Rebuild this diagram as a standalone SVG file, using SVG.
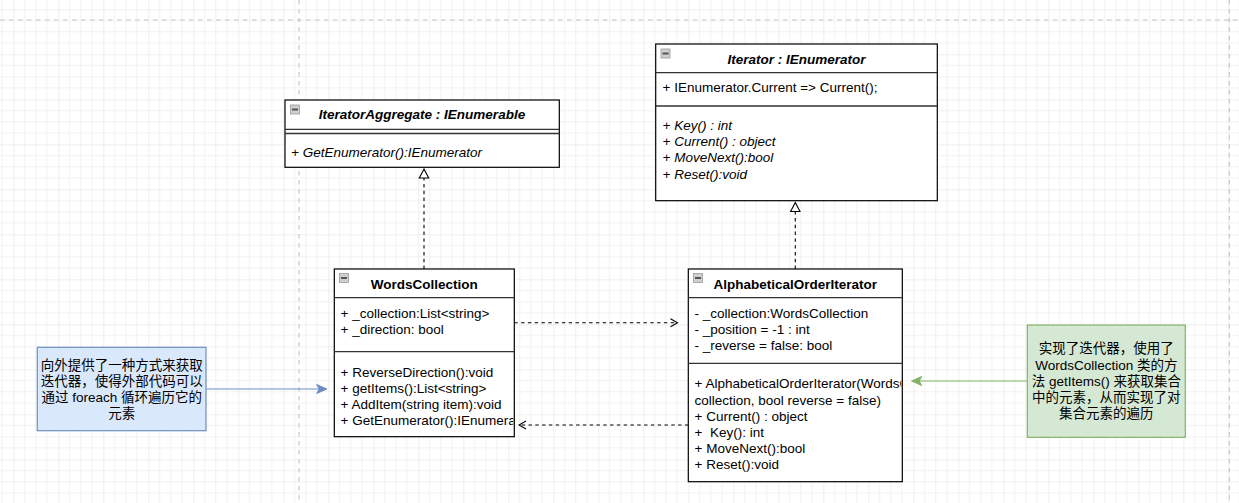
<svg xmlns="http://www.w3.org/2000/svg" width="1239" height="503" viewBox="0 0 1239 503">
<defs>
<style>
.t{font-family:"Liberation Sans",Arial,"Noto Sans CJK SC",sans-serif;font-size:13.5px;fill:#000}
.b{font-weight:bold}
.i{font-style:italic}
.c{text-anchor:middle}
.box{fill:#fff;stroke:#000;stroke-width:1.2}
.div{stroke:#333;stroke-width:1.3;fill:none}
.dash{stroke:#000;stroke-width:1.1;fill:none;stroke-dasharray:3.4 3.4}
.page{stroke:#c4c4c4;stroke-width:1.1;stroke-dasharray:4.5 4.5;fill:none}
.icon{fill:#cfcfcf;stroke:#9a9a9a;stroke-width:0.8}
.bar{fill:#555}
</style>
<pattern id="grid" patternUnits="userSpaceOnUse" x="13.3" y="9.3" width="45" height="45">
<path d="M11.25 0V45M22.5 0V45M33.75 0V45M0 11.25H45M0 22.5H45M0 33.75H45" stroke="#f1f1f1" stroke-width="1"/>
<path d="M0 0V45M0 0H45" stroke="#e0e0e0" stroke-width="1"/>
</pattern>
<marker id="tri" markerUnits="userSpaceOnUse" markerWidth="14" markerHeight="12" viewBox="0 0 14 12" refX="12" refY="6" orient="auto">
<path d="M12 6L3 1.3V10.7Z" fill="#fff" stroke="#000" stroke-width="1.1"/>
</marker>
<marker id="open" markerUnits="userSpaceOnUse" markerWidth="10" markerHeight="12" viewBox="0 0 10 12" refX="8.5" refY="6" orient="auto">
<path d="M1.5 2L8.5 6L1.5 10" fill="none" stroke="#000" stroke-width="1.1"/>
</marker>
<marker id="blue" markerUnits="userSpaceOnUse" markerWidth="12" markerHeight="12" viewBox="0 0 12 12" refX="11" refY="6" orient="auto">
<path d="M11 6L1 1.5L3.5 6L1 10.5Z" fill="#6c8ebf" stroke="#6c8ebf" stroke-width="1"/>
</marker>
<marker id="green" markerUnits="userSpaceOnUse" markerWidth="12" markerHeight="12" viewBox="0 0 12 12" refX="11" refY="6" orient="auto">
<path d="M11 6L1 1.5L3.5 6L1 10.5Z" fill="#82b366" stroke="#82b366" stroke-width="1"/>
</marker>
<clipPath id="clipWC"><rect x="334.3" y="269" width="179" height="168"/></clipPath>
<clipPath id="clipAOI"><rect x="688.3" y="269" width="213" height="213"/></clipPath>
</defs>

<rect width="1239" height="503" fill="#fff"/>
<rect width="1239" height="503" fill="url(#grid)"/>
<g id="page-breaks">
<path class="page" d="M0 20H1239M299 0V503M1229.3 0V503"/>
</g>

<g id="connectors">
<path class="dash" d="M424 269V169" marker-end="url(#tri)"/>
<path class="dash" d="M795.3 269V202.5" marker-end="url(#tri)"/>
<path class="dash" d="M514.3 322.7H677.5" marker-end="url(#open)"/>
<path class="dash" d="M688.3 425H519" marker-end="url(#open)"/>
<path d="M206 389H326.7" stroke="#6c8ebf" stroke-width="1.2" fill="none" marker-end="url(#blue)"/>
<path d="M1027.3 381H911.7" stroke="#82b366" stroke-width="1.2" fill="none" marker-end="url(#green)"/>
</g>

<g id="IteratorAggregate">
<rect class="box" x="285" y="100" width="274.3" height="67.3"/>
<path class="div" d="M285 129.3H559.3M285 133.5H559.3"/>
<rect class="icon" x="290.5" y="105" width="9" height="9"/>
<rect class="bar" x="292" y="108.5" width="6" height="2"/>
<text class="t b i c" x="422" y="119">IteratorAggregate : IEnumerable</text>
<text class="t i" x="291" y="157">+ GetEnumerator():IEnumerator</text>
</g>

<g id="Iterator">
<rect class="box" x="655.7" y="44" width="281.6" height="156.7"/>
<path class="div" d="M655.7 72.7H937.3M655.7 106H937.3"/>
<rect class="icon" x="661" y="49" width="9" height="9"/>
<rect class="bar" x="662.5" y="52.5" width="6" height="2"/>
<text class="t b i c" x="796.5" y="63.5">Iterator : IEnumerator</text>
<text class="t" x="662.5" y="92.3">+ IEnumerator.Current =&gt; Current();</text>
<text class="t i" x="662.5" y="130">+ Key() : int</text>
<text class="t i" x="662.5" y="146.2">+ Current() : object</text>
<text class="t i" x="662.5" y="162.4">+ MoveNext():bool</text>
<text class="t i" x="662.5" y="178.6">+ Reset():void</text>
</g>

<g id="WordsCollection">
<rect class="box" x="334.3" y="269" width="180" height="167.7"/>
<path class="div" d="M334.3 297.7H514.3M334.3 351.7H514.3"/>
<rect class="icon" x="339.5" y="273.5" width="9" height="9"/>
<rect class="bar" x="341" y="277" width="6" height="2"/>
<text class="t b c" x="424.3" y="288.5">WordsCollection</text>
<g clip-path="url(#clipWC)">
<text class="t" x="340.5" y="317.7">+ _collection:List&lt;string&gt;</text>
<text class="t" x="340.5" y="334">+ _direction: bool</text>
<text class="t" x="340.5" y="376.7">+ ReverseDirection():void</text>
<text class="t" x="340.5" y="392.9">+ getItems():List&lt;string&gt;</text>
<text class="t" x="340.5" y="409.1">+ AddItem(string item):void</text>
<text class="t" x="340.5" y="425.3">+ GetEnumerator():IEnumerator</text>
</g>
</g>

<g id="AlphabeticalOrderIterator">
<rect class="box" x="688.3" y="269" width="214" height="212.7"/>
<path class="div" d="M688.3 297.7H902.3M688.3 363.3H902.3"/>
<rect class="icon" x="693.5" y="273.5" width="9" height="9"/>
<rect class="bar" x="695" y="277" width="6" height="2"/>
<text class="t b c" x="795.3" y="288.5">AlphabeticalOrderIterator</text>
<g clip-path="url(#clipAOI)">
<text class="t" x="694.5" y="317.7">- _collection:WordsCollection</text>
<text class="t" x="694.5" y="334">- _position = -1 : int</text>
<text class="t" x="694.5" y="350.2">- _reverse = false: bool</text>
<text class="t" x="694.5" y="388.3">+ AlphabeticalOrderIterator(WordsCollection</text>
<text class="t" x="694.5" y="404.5">collection, bool reverse = false)</text>
<text class="t" x="694.5" y="420.7">+ Current() : object</text>
<text class="t" x="694.5" y="436.9" xml:space="preserve">+  Key(): int</text>
<text class="t" x="694.5" y="453.1">+ MoveNext():bool</text>
<text class="t" x="694.5" y="469.3">+ Reset():void</text>
</g>
</g>

<g id="note-left">
<rect x="37.3" y="347.3" width="168.7" height="83.4" fill="#dae8fc" stroke="#6c8ebf" stroke-width="1.2"/>
<text class="t c" x="121.7" y="370">向外提供了一种方式来获取</text>
<text class="t c" x="121.7" y="386">迭代器，使得外部代码可以</text>
<text class="t c" x="121.7" y="402.4">通过 foreach 循环遍历它的</text>
<text class="t c" x="121.7" y="418.4">元素</text>
</g>

<g id="note-right">
<rect x="1027.3" y="325" width="158" height="112.3" fill="#d5e8d4" stroke="#82b366" stroke-width="1.2"/>
<text class="t c" x="1106.3" y="353.4">实现了迭代器，使用了</text>
<text class="t c" x="1106.3" y="369.6">WordsCollection 类的方</text>
<text class="t c" x="1106.3" y="385.8">法 getItems() 来获取集合</text>
<text class="t c" x="1106.3" y="402">中的元素，从而实现了对</text>
<text class="t c" x="1106.3" y="418.2">集合元素的遍历</text>
</g>
</svg>
